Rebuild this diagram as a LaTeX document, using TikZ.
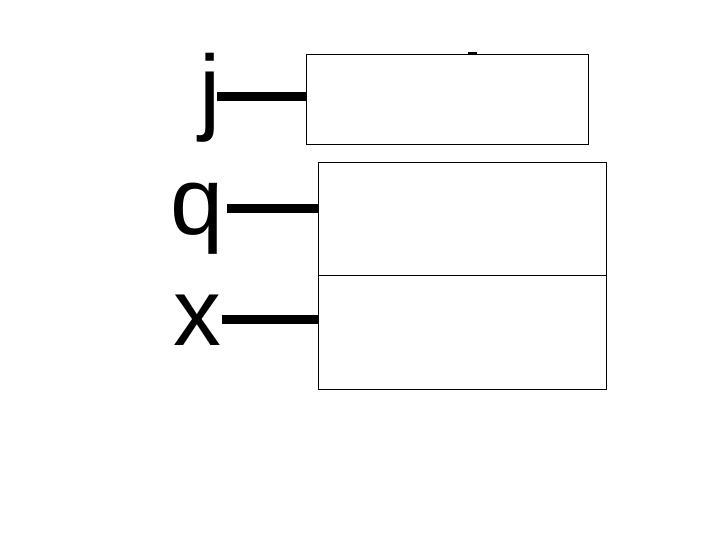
\documentclass[tikz,border=0pt]{standalone}
\usepackage{fontspec}
\setmainfont{Liberation Sans}
\usetikzlibrary{positioning}

\tikzset{
  regbox/.style={draw, line width=1bp, fill=white, anchor=north west, inner sep=0},
  wire/.style={line width=9.5bp},
  reglabel/.style={anchor=base east, inner sep=0, font=\fontsize{96}{96}\selectfont}
}

\begin{document}
\begin{tikzpicture}[x=1bp,y=-1bp]
  \useasboundingbox (0,0) rectangle (720,540);

  % small tab peeking above the top box
  \fill (468,52.5) rectangle (476.7,54);

  \node[regbox, minimum width=282bp, minimum height=90bp] (jbox) at (306,54) {};
  \node[regbox, minimum width=288bp, minimum height=113bp] (qbox) at (318,162) {};
  \node[regbox, minimum width=288bp, minimum height=114bp] (xbox) at (318,275) {};

  \node[reglabel] (jlab) at (221,123) {j};
  \node[reglabel] (qlab) at (224,235) {q};
  \node[reglabel] (xlab) at (222,345) {x};

  \coordinate (jend) at (217.3,96.3);
  \coordinate (qend) at (226.7,208.3);
  \coordinate (xend) at (221.7,319.5);

  \draw[wire] (jend) -- (jend -| jbox.west);
  \draw[wire] (qend) -- (qend -| qbox.west);
  \draw[wire] (xend) -- (xend -| xbox.west);
\end{tikzpicture}
\end{document}
